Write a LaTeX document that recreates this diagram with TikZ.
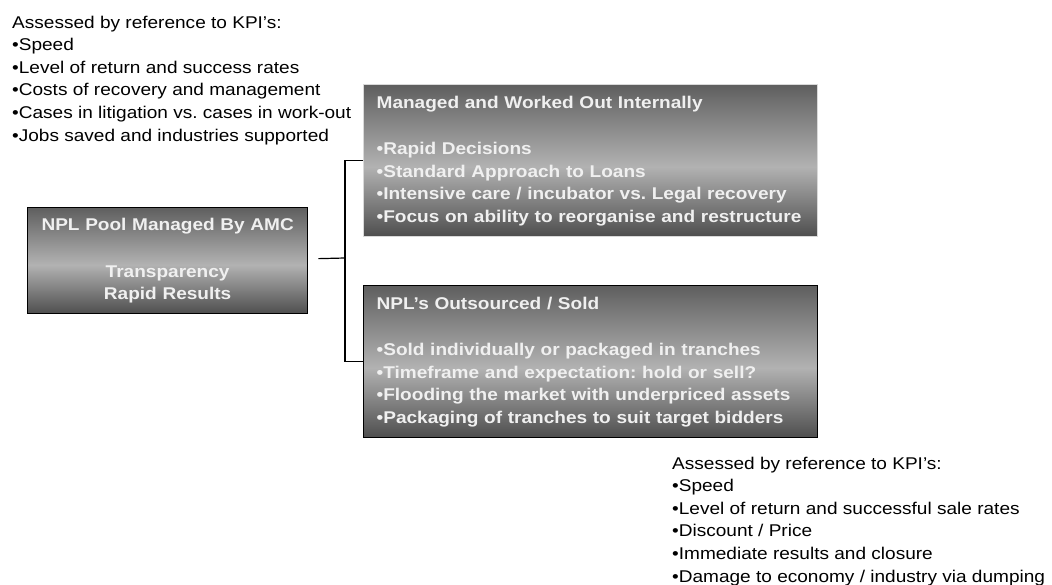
\documentclass[tikz,border=0pt]{standalone}
\usepackage{fontspec}
\setmainfont{Liberation Sans}[FakeStretch=1.12]
\frenchspacing
\definecolor{shtop}{RGB}{95,95,95}
\definecolor{shmid}{RGB}{178,178,178}
\definecolor{shbot}{RGB}{78,78,78}
\definecolor{boxtext}{RGB}{240,240,240}
\pgfdeclareverticalshading{boxshade}{100bp}{color(0bp)=(shbot); color(25bp)=(shbot); color(48bp)=(shmid); color(75bp)=(shtop); color(100bp)=(shtop)}
\tikzset{
  kpi/.style={anchor=north west, inner sep=0pt, align=left, text=black,
    font=\fontsize{17}{22.6}\selectfont},
  panel/.style={shading=boxshade, draw=black, line width=1.3pt, text=boxtext,
    font=\bfseries\fontsize{17}{22.5}\selectfont, inner xsep=13pt, inner ysep=0pt,
    anchor=north west},
  link/.style={draw=black, line width=1.2pt}
}
\begin{document}
\begin{tikzpicture}[x=1pt, y=-1pt]
\useasboundingbox[fill=white] (0,0) rectangle (1052,585);

\node[kpi] (kpitop) at (12,15.5) {Assessed by reference to KPI’s:\\
•Speed\\
•Level of return and success rates\\
•Costs of recovery and management\\
•Cases in litigation vs. cases in work-out\\
•Jobs saved and industries supported};

\node[kpi] (kpibot) at (672,456.5) {Assessed by reference to KPI’s:\\
•Speed\\
•Level of return and successful sale rates\\
•Discount / Price\\
•Immediate results and closure\\
•Damage to economy / industry via dumping};

\node[panel, text width=254pt, minimum height=106pt, align=center] (pool) at (27,207)
  {NPL Pool Managed By AMC\\[24pt]Transparency\\Rapid Results};

\node[panel, draw=gray!30, text width=428pt, minimum height=152pt, align=left] (internal) at (363,84)
  {Managed and Worked Out Internally\\[24pt]
  •Rapid Decisions\\
  •Standard Approach to Loans\\
  •Intensive care / incubator vs. Legal recovery\\
  •Focus on ability to reorganise and restructure};

\node[panel, text width=428pt, minimum height=152pt, align=left] (sold) at (363,285)
  {NPL’s Outsourced / Sold\\[24pt]
  •Sold individually or packaged in tranches\\
  •Timeframe and expectation: hold or sell?\\
  •Flooding the market with underpriced assets\\
  •Packaging of tranches to suit target bidders};

\coordinate (stub) at ([xshift=10pt,yshift=2pt]pool.east);
\coordinate (junction) at (345,258);
\draw[link] (stub) -- (junction);
\draw[link] (internal.west) -| (junction) |- (sold.west);
\end{tikzpicture}
\end{document}
